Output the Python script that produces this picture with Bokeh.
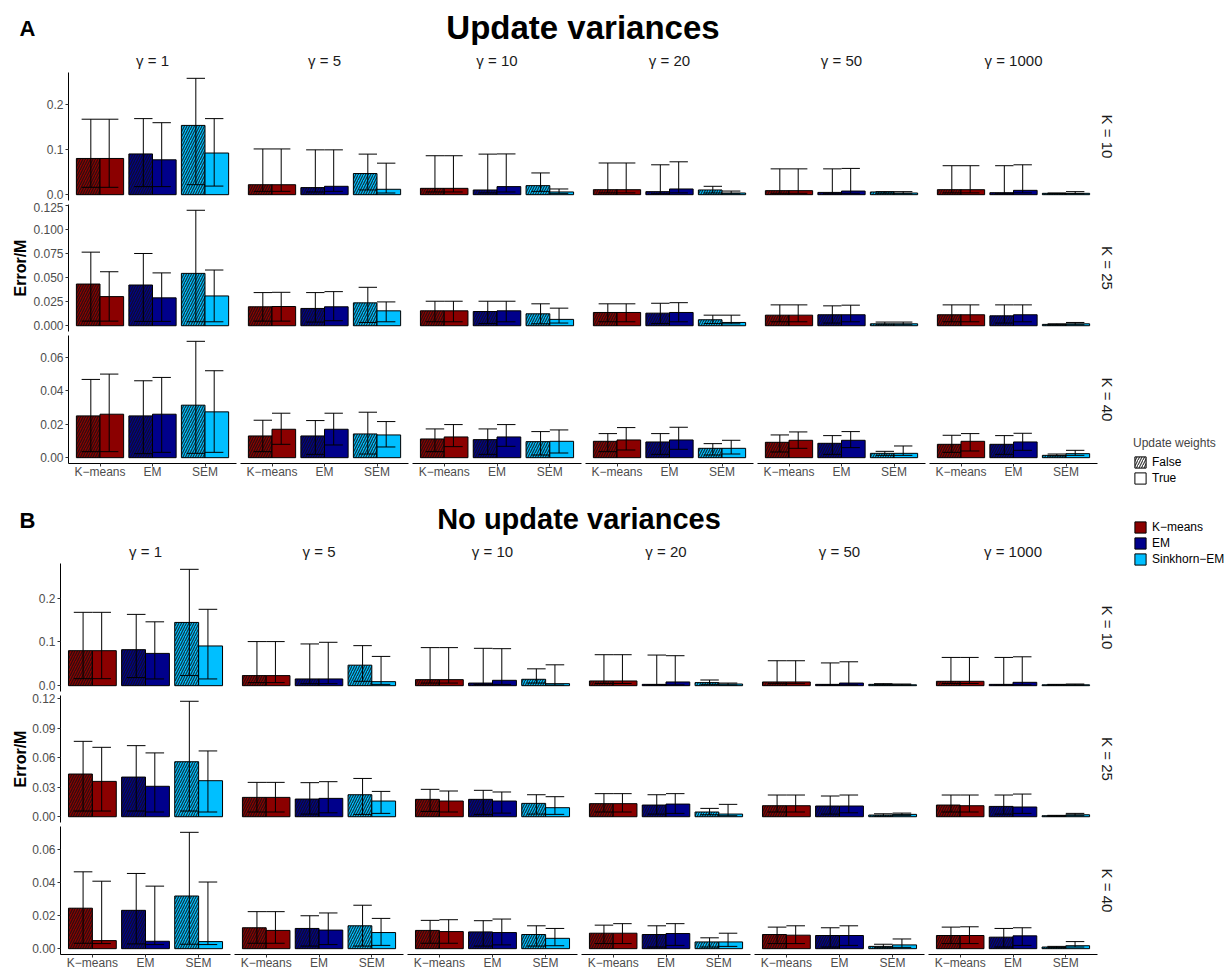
from bokeh.plotting import figure
from bokeh.models import (ColumnDataSource, Range1d, FixedTicker, PrintfTickFormatter,
                          Title, Legend, LegendItem)
from bokeh.transform import dodge
from bokeh.layouts import column, row
from bokeh.core.properties import value
from bokeh.embed import file_html
from bokeh.resources import INLINE

FONT = "Liberation Sans"

GAMMAS = [1, 5, 10, 20, 50, 1000]
K_VALUES = [10, 25, 40]
METHODS = ["K−means", "EM", "SEM"]
METHOD_LABELS = ["K−means", "EM", "Sinkhorn−EM"]
METHOD_COLORS = ["#8B0000", "#00008B", "#00BFFF"]
WEIGHT_LABELS = ["False", "True"]

# Each inner list is one gamma panel, ordered:
# K-means/False, K-means/True, EM/False, EM/True, SEM/False, SEM/True

# ---- Update variances ----
upd_k10_mean = [
    [0.080, 0.080, 0.090, 0.077, 0.153, 0.092],
    [0.022, 0.022, 0.0156, 0.0185, 0.0467, 0.0119],
    [0.014, 0.014, 0.0104, 0.0178, 0.020, 0.006],
    [0.011, 0.011, 0.0067, 0.0126, 0.0104, 0.0037],
    [0.0089, 0.0089, 0.005, 0.008, 0.006, 0.0037],
    [0.011, 0.011, 0.0044, 0.0096, 0.003, 0.003],
]
upd_k10_low = [
    [0.0163, 0.0163, 0.0178, 0.0178, 0.022, 0.019],
    [0.0074, 0.0074, 0.006, 0.0074, 0.0104, 0.0037],
    [0.006, 0.006, 0.004, 0.006, 0.0074, 0.003],
    [0.004, 0.004, 0.002, 0.004, 0.0037, 0.002],
    [0.003, 0.003, 0.002, 0.003, 0.003, 0.002],
    [0.004, 0.004, 0.002, 0.004, 0.002, 0.002],
]
upd_k10_high = [
    [0.1667, 0.1667, 0.168, 0.159, 0.257, 0.168],
    [0.101, 0.101, 0.099, 0.099, 0.0896, 0.0696],
    [0.086, 0.086, 0.0896, 0.090, 0.048, 0.0126],
    [0.070, 0.070, 0.066, 0.0726, 0.0185, 0.008],
    [0.057, 0.057, 0.057, 0.058, 0.0067, 0.0067],
    [0.064, 0.064, 0.064, 0.066, 0.0037, 0.0067],
]
upd_k25_mean = [
    [0.0434, 0.0303, 0.0424, 0.029, 0.0545, 0.031],
    [0.0197, 0.020, 0.018, 0.0197, 0.0238, 0.0155],
    [0.0155, 0.0155, 0.0148, 0.0155, 0.0124, 0.0066],
    [0.0138, 0.0138, 0.0131, 0.0138, 0.0062, 0.0034],
    [0.011, 0.011, 0.0114, 0.0114, 0.002, 0.002],
    [0.0114, 0.0114, 0.0103, 0.0114, 0.0014, 0.002],
]
upd_k25_low = [
    [0.0048, 0.0048, 0.0045, 0.0045, 0.0041, 0.0041],
    [0.0048, 0.0048, 0.0038, 0.0052, 0.0034, 0.0041],
    [0.0041, 0.0041, 0.0024, 0.0041, 0.002, 0.0028],
    [0.0041, 0.0041, 0.0024, 0.0041, 0.0024, 0.002],
    [0.0041, 0.0041, 0.0028, 0.0041, 0.001, 0.001],
    [0.0041, 0.0041, 0.0028, 0.0041, 0.0007, 0.001],
]
upd_k25_high = [
    [0.0766, 0.0562, 0.0752, 0.055, 0.1202, 0.058],
    [0.0345, 0.0348, 0.0345, 0.0355, 0.040, 0.0248],
    [0.0255, 0.0255, 0.0255, 0.0255, 0.0228, 0.0183],
    [0.0228, 0.0228, 0.0234, 0.024, 0.011, 0.011],
    [0.0217, 0.0217, 0.0207, 0.0214, 0.0038, 0.0038],
    [0.0217, 0.0217, 0.0217, 0.0217, 0.002, 0.0034],
]
upd_k40_mean = [
    [0.025, 0.026, 0.025, 0.026, 0.0314, 0.0274],
    [0.013, 0.017, 0.013, 0.017, 0.0142, 0.0136],
    [0.0112, 0.0124, 0.0108, 0.0124, 0.0096, 0.0098],
    [0.0098, 0.0106, 0.0094, 0.0106, 0.0056, 0.0056],
    [0.0092, 0.0104, 0.0086, 0.0104, 0.0026, 0.0026],
    [0.008, 0.0098, 0.008, 0.0094, 0.0014, 0.0024],
]
upd_k40_low = [
    [0.0036, 0.0036, 0.0024, 0.0032, 0.0026, 0.0032],
    [0.0036, 0.008, 0.002, 0.0076, 0.0022, 0.0064],
    [0.0036, 0.0066, 0.002, 0.0068, 0.0016, 0.0028],
    [0.0036, 0.0046, 0.002, 0.005, 0.0016, 0.0022],
    [0.0034, 0.0056, 0.002, 0.006, 0.0014, 0.0014],
    [0.0032, 0.004, 0.002, 0.0044, 0.001, 0.0014],
]
upd_k40_high = [
    [0.0468, 0.050, 0.046, 0.048, 0.0696, 0.052],
    [0.0224, 0.0266, 0.0222, 0.0266, 0.0272, 0.0216],
    [0.0172, 0.0198, 0.0172, 0.0198, 0.0156, 0.0166],
    [0.0144, 0.018, 0.0144, 0.0182, 0.0084, 0.0104],
    [0.0136, 0.0154, 0.0132, 0.0156, 0.0038, 0.007],
    [0.0134, 0.0144, 0.0132, 0.0146, 0.0022, 0.0044],
]

# ---- No update variances ----
fix_k10_mean = [
    [0.080, 0.080, 0.0823, 0.0738, 0.1446, 0.0908],
    [0.023, 0.023, 0.0154, 0.0154, 0.0469, 0.0092],
    [0.0138, 0.0138, 0.006, 0.0123, 0.0146, 0.0046],
    [0.0108, 0.0108, 0.003, 0.0085, 0.007, 0.0038],
    [0.0085, 0.0085, 0.003, 0.006, 0.003, 0.002],
    [0.010, 0.010, 0.003, 0.0077, 0.002, 0.002],
]
fix_k10_low = [
    [0.016, 0.016, 0.0185, 0.0154, 0.023, 0.0154],
    [0.007, 0.007, 0.0046, 0.0046, 0.010, 0.003],
    [0.006, 0.006, 0.003, 0.003, 0.006, 0.0015],
    [0.005, 0.005, 0.002, 0.002, 0.003, 0.0015],
    [0.0046, 0.0046, 0.0015, 0.002, 0.0015, 0.0015],
    [0.005, 0.005, 0.0015, 0.002, 0.0015, 0.0015],
]
fix_k10_high = [
    [0.1677, 0.1677, 0.163, 0.146, 0.266, 0.1746],
    [0.1008, 0.1008, 0.0954, 0.0992, 0.0915, 0.0669],
    [0.087, 0.087, 0.0854, 0.0846, 0.0385, 0.0477],
    [0.0708, 0.0708, 0.070, 0.0685, 0.013, 0.006],
    [0.057, 0.057, 0.052, 0.0546, 0.0046, 0.0038],
    [0.0646, 0.0646, 0.0646, 0.066, 0.003, 0.0038],
]
fix_k25_mean = [
    [0.0435, 0.036, 0.0404, 0.031, 0.056, 0.0367],
    [0.0197, 0.0197, 0.018, 0.0187, 0.0224, 0.016],
    [0.0177, 0.016, 0.0177, 0.016, 0.0136, 0.0092],
    [0.0133, 0.0133, 0.0119, 0.0129, 0.0048, 0.0027],
    [0.0112, 0.0112, 0.0109, 0.0109, 0.0017, 0.0024],
    [0.0119, 0.0112, 0.0105, 0.0099, 0.001, 0.002],
]
fix_k25_low = [
    [0.0058, 0.0058, 0.0058, 0.0048, 0.0058, 0.0048],
    [0.0048, 0.0048, 0.0027, 0.004, 0.0024, 0.0034],
    [0.0054, 0.0048, 0.0024, 0.0037, 0.0027, 0.0024],
    [0.0048, 0.0048, 0.0027, 0.0034, 0.002, 0.001],
    [0.0048, 0.0048, 0.0027, 0.004, 0.0007, 0.0014],
    [0.0048, 0.0048, 0.0027, 0.0034, 0.0005, 0.001],
]
fix_k25_high = [
    [0.0768, 0.0707, 0.0724, 0.065, 0.1176, 0.067],
    [0.035, 0.035, 0.0347, 0.0357, 0.039, 0.0258],
    [0.0279, 0.0262, 0.0269, 0.0252, 0.0224, 0.0204],
    [0.0235, 0.0235, 0.0224, 0.0235, 0.0085, 0.0126],
    [0.0221, 0.0221, 0.0211, 0.0221, 0.003, 0.0037],
    [0.0221, 0.0221, 0.0221, 0.0231, 0.0014, 0.0034],
]
fix_k40_mean = [
    [0.0246, 0.0049, 0.0233, 0.0045, 0.032, 0.0043],
    [0.0127, 0.0111, 0.0123, 0.0113, 0.0139, 0.0098],
    [0.0111, 0.0104, 0.0102, 0.0098, 0.0086, 0.0063],
    [0.0094, 0.0094, 0.0086, 0.0092, 0.0041, 0.0041],
    [0.0086, 0.0082, 0.008, 0.008, 0.0014, 0.0023],
    [0.008, 0.008, 0.007, 0.0078, 0.001, 0.0018],
]
fix_k40_low = [
    [0.0033, 0.0031, 0.0029, 0.0025, 0.0027, 0.0025],
    [0.0033, 0.0033, 0.0016, 0.0025, 0.0016, 0.002],
    [0.0033, 0.0033, 0.0016, 0.0023, 0.0016, 0.0018],
    [0.0031, 0.0031, 0.001, 0.002, 0.001, 0.0014],
    [0.0031, 0.0031, 0.001, 0.002, 0.0006, 0.0008],
    [0.0031, 0.0031, 0.001, 0.002, 0.0006, 0.001],
]
fix_k40_high = [
    [0.0467, 0.041, 0.0457, 0.038, 0.0707, 0.0405],
    [0.0225, 0.0225, 0.020, 0.0217, 0.0264, 0.0184],
    [0.0172, 0.0176, 0.017, 0.018, 0.0139, 0.0123],
    [0.0143, 0.0152, 0.0139, 0.0152, 0.0066, 0.0094],
    [0.0131, 0.0139, 0.0127, 0.0139, 0.0027, 0.0059],
    [0.0131, 0.0133, 0.0123, 0.0127, 0.0014, 0.0043],
]

# y-axis ticks for the K = 10 / 25 / 40 rows
upd_ticks = [([0, 0.1, 0.2], "%.1f"),
             ([0, 0.025, 0.05, 0.075, 0.1, 0.125], "%.3f"),
             ([0, 0.02, 0.04, 0.06], "%.2f")]
fix_ticks = [([0, 0.1, 0.2], "%.1f"),
             ([0, 0.03, 0.06, 0.09, 0.12], "%.2f"),
             ([0, 0.02, 0.04, 0.06], "%.2f")]

# ---- geometry / style ----
BAR_W = 0.45            # each of the two dodged bars
EB_W = 0.35             # error bar cap width (dodged by its own width)
ROW_HEIGHTS = [128, 127, 128]
STRIP_TOP = 26
STRIP_RIGHT = 21
TEXT_GREY = "#4D4D4D"
STRIP_COLOR = "#1A1A1A"
HATCH = dict(hatch_pattern="/", hatch_color="#111111", hatch_alpha=0.8,
             hatch_scale=5, hatch_weight=1.2)

SECTIONS = [
    dict(letter="A", title="Update variances", title_size="33px", left=68,
         widths=[168, 168, 169, 168, 168, 168], bottom=28,
         head_h=45, title_y=27, letter_y=28, ylab_standoff=1,
         mean=[upd_k10_mean, upd_k25_mean, upd_k40_mean],
         low=[upd_k10_low, upd_k25_low, upd_k40_low],
         high=[upd_k10_high, upd_k25_high, upd_k40_high],
         ticks=upd_ticks),
    dict(letter="B", title="No update variances", title_size="29px", left=60,
         widths=[170, 169, 170, 169, 170, 169], bottom=17,
         head_h=45, title_y=27, letter_y=29, ylab_standoff=0,
         mean=[fix_k10_mean, fix_k25_mean, fix_k40_mean],
         low=[fix_k10_low, fix_k25_low, fix_k40_low],
         high=[fix_k10_high, fix_k25_high, fix_k40_high],
         ticks=fix_ticks),
]


def style_axis(ax):
    ax.major_tick_out = 3
    ax.major_tick_in = 0
    ax.minor_tick_line_color = None
    ax.major_tick_line_color = "#333333"
    ax.axis_line_color = "black"
    ax.axis_line_width = 1
    ax.major_label_text_font = FONT
    ax.major_label_text_font_size = "12px"
    ax.major_label_text_color = TEXT_GREY


def panel(sec, ri, ci, y_range):
    first, last = ci == 0, ci == len(GAMMAS) - 1
    p = figure(frame_width=sec["widths"][ci], frame_height=ROW_HEIGHTS[ri],
               x_range=Range1d(0.4, 3.6), y_range=y_range,
               x_axis_location="below" if ri == 2 else None,
               y_axis_location="left" if first else None,
               toolbar_location=None, output_backend="svg", title=None,
               min_border_left=sec["left"] if first else 2,
               min_border_right=STRIP_RIGHT if last else 2,
               min_border_top=STRIP_TOP if ri == 0 else 2,
               min_border_bottom=sec["bottom"] if ri == 2 else 2,
               outline_line_color=None, background_fill_color="white",
               border_fill_color="white")
    p.xgrid.visible = False
    p.ygrid.visible = False

    mean, low, high = sec["mean"][ri][ci], sec["low"][ri][ci], sec["high"][ri][ci]
    src = ColumnDataSource(dict(
        pos=[1, 2, 3], color=METHOD_COLORS,
        mean_f=mean[0::2], mean_t=mean[1::2],
        low_f=low[0::2], low_t=low[1::2],
        high_f=high[0::2], high_t=high[1::2],
    ))
    p.vbar(x=dodge("pos", -BAR_W / 2), top="mean_f", bottom=0, width=BAR_W, source=src,
           fill_color="color", line_color="black", line_width=1, **HATCH)
    p.vbar(x=dodge("pos", BAR_W / 2), top="mean_t", bottom=0, width=BAR_W, source=src,
           fill_color="color", line_color="black", line_width=1)
    for side, off in (("f", -EB_W / 2), ("t", EB_W / 2)):
        p.segment(x0=dodge("pos", off), x1=dodge("pos", off),
                  y0=f"low_{side}", y1=f"high_{side}", source=src,
                  line_color="black", line_width=1)
        for end in ("low", "high"):
            p.segment(x0=dodge("pos", off - EB_W / 2), x1=dodge("pos", off + EB_W / 2),
                      y0=f"{end}_{side}", y1=f"{end}_{side}", source=src,
                      line_color="black", line_width=1)

    if first:
        ticks, fmt = sec["ticks"][ri]
        ax = p.yaxis[0]
        style_axis(ax)
        ax.ticker = FixedTicker(ticks=ticks)
        ax.formatter = PrintfTickFormatter(format=fmt)
        ax.major_label_standoff = 2
        if ri == 1:
            ax.axis_label = "Error/M"
            ax.axis_label_text_font = FONT
            ax.axis_label_text_font_size = "16px"
            ax.axis_label_text_font_style = "bold"
            ax.axis_label_text_color = "black"
            ax.axis_label_standoff = sec["ylab_standoff"]
    if ri == 2:
        ax = p.xaxis[0]
        style_axis(ax)
        ax.ticker = FixedTicker(ticks=[1, 2, 3])
        ax.major_label_overrides = {1: METHODS[0], 2: METHODS[1], 3: METHODS[2]}
        ax.major_label_standoff = -2
    if ri == 0:
        p.add_layout(Title(text=f"γ = {GAMMAS[ci]}", align="center", text_font=FONT,
                           text_font_size="15px", text_font_style="normal",
                           text_color=STRIP_COLOR, standoff=8), "above")
    if last:
        p.add_layout(Title(text=f"K = {K_VALUES[ri]}", align="center", text_font=FONT,
                           text_font_size="15px", text_font_style="normal",
                           text_color=STRIP_COLOR, standoff=2), "right")
    return p


def header(sec, width):
    h = sec["head_h"]
    f = figure(width=width, height=h, x_range=Range1d(0, width), y_range=Range1d(h, 0),
               min_border=0, toolbar_location=None, output_backend="svg", title=None,
               x_axis_location=None, y_axis_location=None, outline_line_color=None)
    f.grid.visible = False
    right = sec["left"] + sum(sec["widths"]) + 4 * (len(GAMMAS) - 1)
    f.text(x=[(sec["left"] + right) / 2], y=[sec["title_y"]], text=[sec["title"]],
           text_font=value(FONT), text_font_size=sec["title_size"], text_font_style="bold",
           text_align="center", text_baseline="middle", text_color="black")
    f.text(x=[27], y=[sec["letter_y"]], text=[sec["letter"]],
           text_font=value(FONT), text_font_size="22px", text_font_style="bold",
           text_align="center", text_baseline="middle", text_color="black")
    return f


blocks = []
for sec in SECTIONS:
    total_w = sec["left"] + sum(sec["widths"]) + 4 * (len(GAMMAS) - 1) + STRIP_RIGHT
    blocks.append(header(sec, total_w))
    for ri in range(len(K_VALUES)):
        top = max(max(v) for v in sec["high"][ri])
        y_range = Range1d(-0.05 * top, 1.05 * top)
        blocks.append(row([panel(sec, ri, ci, y_range) for ci in range(len(GAMMAS))]))

# ---- legends (zero-size proxy glyphs carry the key styles) ----
leg = figure(width=112, height=969, x_range=Range1d(0, 1), y_range=Range1d(0, 1),
             min_border=0, toolbar_location=None, output_backend="svg", title=None,
             x_axis_location=None, y_axis_location=None, outline_line_color=None)
leg.grid.visible = False


def key(**style):
    return leg.vbar(x=[0], top=[0], bottom=[0], width=0, line_color="black", **style)


r_false = key(fill_color="white", **HATCH)
r_true = key(fill_color="white")
color_renderers = [key(fill_color=c) for c in METHOD_COLORS]

common = dict(glyph_width=14, glyph_height=14, label_height=14, spacing=2,
              label_standoff=5, padding=0, margin=0, border_line_color=None,
              background_fill_alpha=0, label_text_font=FONT,
              label_text_font_size="12px", label_text_color="black")
weights_legend = Legend(items=[LegendItem(label=lab, renderers=[r])
                               for lab, r in zip(WEIGHT_LABELS, [r_false, r_true])],
                        title="Update weights", title_text_font=FONT,
                        title_text_font_size="12px", title_text_font_style="normal",
                        title_standoff=5, location=(15, 484), **common)
method_legend = Legend(items=[LegendItem(label=lab, renderers=[r])
                              for lab, r in zip(METHOD_LABELS, color_renderers)],
                       location=(15, 403), **common)
leg.add_layout(weights_legend)
leg.add_layout(method_legend)

page = row([column(blocks), leg])

open("out.html", "w").write(file_html(page, INLINE))
